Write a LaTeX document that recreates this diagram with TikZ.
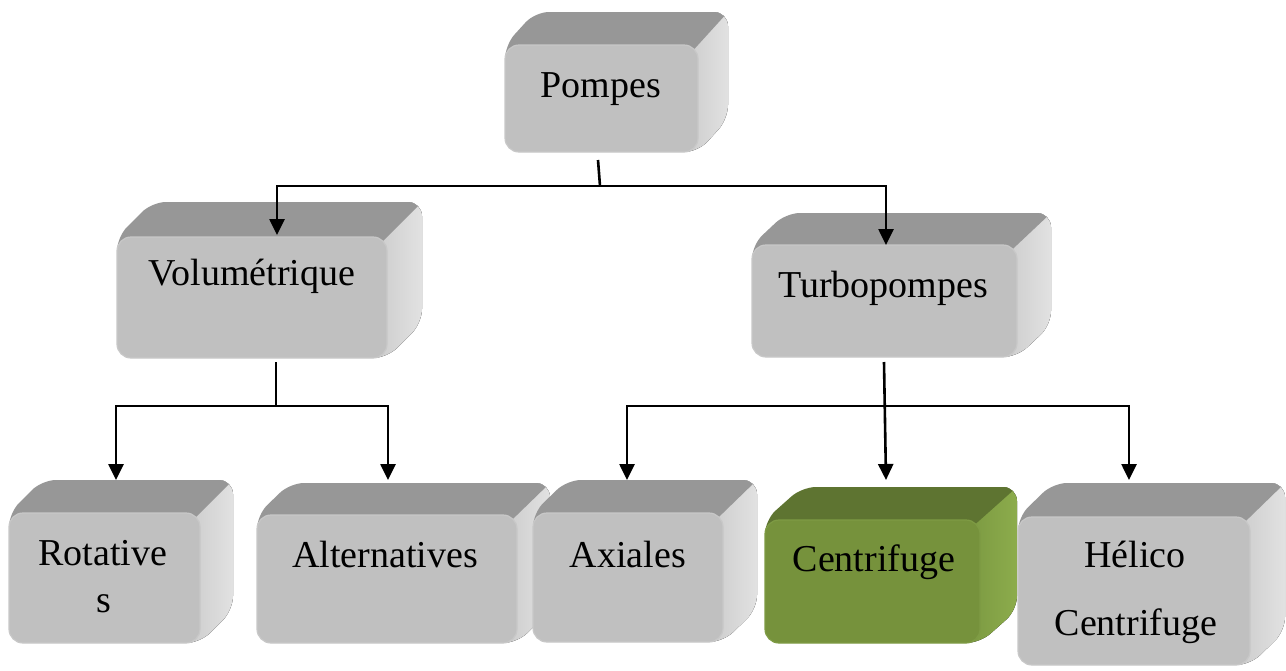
\documentclass[tikz,border=0pt]{standalone}
\usepackage{fontspec}
\setmainfont{Liberation Serif}
\usetikzlibrary{arrows.meta,calc}

\definecolor{grayfront}{HTML}{C0C0C0}
\definecolor{graytop}{HTML}{979797}
\definecolor{graysideA}{HTML}{CDCDCD}
\definecolor{graysideB}{HTML}{E4E4E4}
\definecolor{grayrim}{HTML}{C8C8C8}
\definecolor{greenfront}{HTML}{76923C}
\definecolor{greentop}{HTML}{5E7431}
\definecolor{greensideA}{HTML}{7C9A42}
\definecolor{greensideB}{HTML}{8EAE4D}
\definecolor{greenrim}{HTML}{7E9B44}

\tikzset{
  face/.style={rectangle, rounded corners=14pt, inner sep=0pt, outer sep=0pt, line width=1.2pt},
  label/.style={font=\fontsize{38}{45}\selectfont, anchor=base, inner sep=0pt},
  conn/.style={line width=2.6pt, black},
  arr/.style={conn, -{Triangle[width=15pt,length=16pt]}}
}

% #1 name, #2 x1, #3 y1, #4 x2, #5 y2 (front face), #6 dx, #7 dy (depth), #8 palette
\newcommand\blockbox[8]{%
  \begin{scope}
    \clip[rounded corners=14pt] (#2,#5) -- (#2,#3) -- ({#2+#6},{#3-#7}) -- ({#4+#6},{#3-#7})
      -- ({#4+#6},{#5-#7}) -- (#4,#5) -- cycle;
    \fill[left color=#8sideA, right color=#8sideB] ({#4-10},{#3-#7-5}) rectangle ({#4+#6+5},{#5+5});
    \fill[#8top] ({#2-60},{#3+0.4*#7}) -- ({#4-0.4*#6},{#3+0.4*#7}) -- ({#4+2*#6},{#3-2*#7})
      -- ({#2-60},{#3-2*#7}) -- cycle;
  \end{scope}
  \node[face, fill=#8front, draw=#8rim, minimum width={#4-#2}, minimum height={#5-#3}]
    (#1) at ({(#2+#4)/2},{(#3+#5)/2}) {};
}

\begin{document}
\begin{tikzpicture}[x=1pt, y=-1pt]
  \useasboundingbox (0,0) rectangle (1286,670);

  % boxes
  \blockbox{pompes}{505}{45}{698}{152}{30}{33}{gray}
  \blockbox{volum}{117}{237}{387}{358}{35}{35}{gray}
  \blockbox{turbo}{752}{245}{1017}{357}{34}{32}{gray}
  \blockbox{rotat}{9}{513}{200}{643}{33}{33}{gray}
  \blockbox{alter}{257}{515}{517}{643}{33}{32}{gray}
  \blockbox{axial}{533}{513}{723}{642}{34}{33}{gray}
  \blockbox{centr}{765}{520}{980}{643}{37}{33}{green}
  \blockbox{helic}{1018}{517}{1250}{665}{35}{34}{gray}

  % labels
  \node[label] (pompes-t) at (601,97) {Pompes};
  \node[label] (volum-t) at (252,285) {Volumétrique};
  \node[label] (turbo-t) at (883,297) {Turbopompes};
  \node[label] (rotat-t) at (103,565) {Rotative};
  \node[label] (rotat-t2) at (104,612) {s};
  \node[label] (alter-t) at (385,567) {Alternatives};
  \node[label] (axial-t) at (628,567) {Axiales};
  \node[label] (centr-t) at (874,571) {Centrifuge};
  \node[label] (helic-t) at (1135,567) {Hélico};
  \node[label] (helic-t2) at (1136,635) {Centrifuge};

  % connector end points
  \coordinate (a0) at (598,160);
  \coordinate (a1) at (600,186);
  \coordinate (volin) at (277,235);
  \coordinate (turin) at (886,245);
  \coordinate (b0) at (276,362);
  \coordinate (b1) at (276,406);
  \coordinate (rotin) at (116,480);
  \coordinate (altin) at (388,480);
  \coordinate (c0) at (884,362);
  \coordinate (c1) at (885,406);
  \coordinate (axiin) at (627,480);
  \coordinate (cenin) at (886,480);
  \coordinate (helin) at (1129,480);

  % connectors
  \draw[conn] (a0) -- (a1);
  \draw[arr] (a1) -| (volin);
  \draw[arr] (a1) -| (turin);
  \draw[conn] (b0) -- (b1);
  \draw[arr] (b1) -| (rotin);
  \draw[arr] (b1) -| (altin);
  \draw[arr] (c0) -- (cenin);
  \draw[arr] (c1) -| (axiin);
  \draw[arr] (c1) -| (helin);
\end{tikzpicture}
\end{document}
